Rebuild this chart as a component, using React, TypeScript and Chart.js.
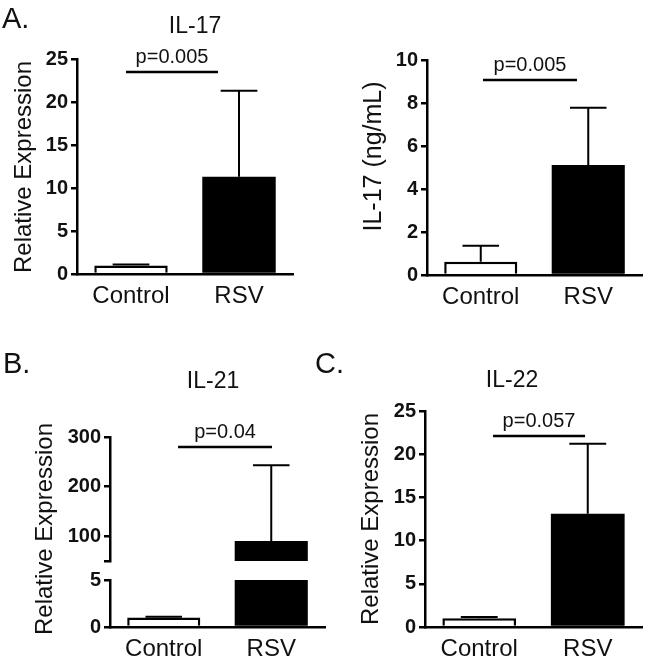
import React, { useEffect, useRef } from 'react';
import { Chart, registerables } from 'chart.js';

Chart.register(...registerables);

// ---------- data ----------
const categories = ['Control', 'RSV'];

// A (left): IL-17 relative expression
const il17RelMeans = [1.0, 11.3];
const il17RelErrors = [0.1, 10.0];
const il17RelTicks = [0, 5, 10, 15, 20, 25];

// A (right): IL-17 protein (ng/mL)
const il17ProtMeans = [0.62, 5.12];
const il17ProtErrors = [0.74, 2.66];
const il17ProtTicks = [0, 2, 4, 6, 8, 10];

// B: IL-21 relative expression (broken axis)
const il21Means = [1.0, 90.5];
const il21Errors = [0.1, 152.5];
const il21LowerTicks = [0, 5];
const il21UpperTicks = [50, 100, 200, 300];
const il21UpperLabelled = [100, 200, 300];

// C: IL-22 relative expression
const il22Means = [1.0, 13.1];
const il22Errors = [0.15, 8.1];
const il22Ticks = [0, 5, 10, 15, 20, 25];

const pLabels = ['p=0.005', 'p=0.005', 'p=0.04', 'p=0.057'];
const sigLevels = [23.5, 9.07, 280, 22.1];

// ---------- layout / style ----------
const FONT = "'Liberation Sans', Arial, Helvetica, sans-serif";
const INK = '#111';

type Box = { x: number; y: number; w: number; h: number };
type Area = { l: number; t: number; r: number; b: number };
type Spec = {
  key: string;
  box: Box;
  area: Area;
  showX: boolean;
  means: number[];
  errors: number[];
  ticks: number[];
  labelled: number[];
  min: number;
  max: number;
  letter?: { text: string; x: number; y: number };
  title?: { text: string; x: number; y: number };
  yTitle?: { text: string; x: number; y: number; size: number };
  sig?: { text: string; y: number; from: number; to: number };
};

const boxB: Box = { x: 0, y: 330, w: 330, h: 334 };

const specs: Spec[] = [
  {
    key: 'a1',
    box: { x: 0, y: 0, w: 330, h: 320 },
    area: { l: 77, t: 59, r: 293, b: 274 },
    showX: true,
    means: il17RelMeans,
    errors: il17RelErrors,
    ticks: il17RelTicks,
    labelled: il17RelTicks,
    min: 0,
    max: 25,
    letter: { text: 'A.', x: 2, y: 28 },
    title: { text: 'IL-17', x: 195, y: 33 },
    yTitle: { text: 'Relative Expression', x: 24, y: 167, size: 24 },
    sig: { text: pLabels[0], y: sigLevels[0], from: -0.046, to: 0.806 },
  },
  {
    key: 'a2',
    box: { x: 330, y: 0, w: 327, h: 320 },
    area: { l: 427, t: 60, r: 642, b: 275 },
    showX: true,
    means: il17ProtMeans,
    errors: il17ProtErrors,
    ticks: il17ProtTicks,
    labelled: il17ProtTicks,
    min: 0,
    max: 10,
    yTitle: { text: 'IL-17 (ng/mL)', x: 374.5, y: 156.5, size: 25 },
    sig: { text: pLabels[1], y: sigLevels[1], from: 0.021, to: 0.895 },
  },
  {
    key: 'b-upper',
    box: boxB,
    area: { l: 110, t: 437, r: 325, b: 561 },
    showX: false,
    means: il21Means,
    errors: il21Errors,
    ticks: il21UpperTicks,
    labelled: il21UpperLabelled,
    min: 50,
    max: 300,
    letter: { text: 'B.', x: 3, y: 373 },
    title: { text: 'IL-21', x: 213, y: 388 },
    yTitle: { text: 'Relative Expression', x: 45.5, y: 529, size: 24 },
    sig: { text: pLabels[2], y: sigLevels[2], from: 0.133, to: 1.007 },
  },
  {
    key: 'b-lower',
    box: boxB,
    area: { l: 110, t: 580, r: 325, b: 627 },
    showX: true,
    means: il21Means,
    errors: il21Errors,
    ticks: il21LowerTicks,
    labelled: il21LowerTicks,
    min: 0,
    max: 5,
  },
  {
    key: 'c',
    box: { x: 300, y: 330, w: 357, h: 334 },
    area: { l: 425, t: 411, r: 642, b: 627 },
    showX: true,
    means: il22Means,
    errors: il22Errors,
    ticks: il22Ticks,
    labelled: il22Ticks,
    min: 0,
    max: 25,
    letter: { text: 'C.', x: 315, y: 373 },
    title: { text: 'IL-22', x: 512, y: 387 },
    yTitle: { text: 'Relative Expression', x: 371, y: 519, size: 24 },
    sig: { text: pLabels[3], y: sigLevels[3], from: 0.127, to: 0.975 },
  },
];

// ---------- plugin: error bars, significance bars, panel text ----------
const decorPlugin = {
  id: 'decor',
  afterDatasetsDraw(chart: any) {
    const spec: Spec = chart.$spec;
    if (!spec) return;
    const { ctx, chartArea } = chart;
    const yScale = chart.scales.y;
    const meta = chart.getDatasetMeta(0);
    ctx.save();
    ctx.beginPath();
    ctx.rect(chartArea.left, chartArea.top, chartArea.right - chartArea.left, chartArea.bottom - chartArea.top);
    ctx.clip();
    ctx.strokeStyle = '#000';
    ctx.lineWidth = 2;
    meta.data.forEach((bar: any, i: number) => {
      const mean = spec.means[i];
      const err = spec.errors[i];
      const x = bar.x;
      const half = bar.width / 4;
      const y0 = yScale.getPixelForValue(mean);
      const y1 = yScale.getPixelForValue(mean + err);
      ctx.beginPath();
      ctx.moveTo(x, y0);
      ctx.lineTo(x, y1);
      ctx.moveTo(x - half, y1);
      ctx.lineTo(x + half, y1);
      ctx.stroke();
    });
    ctx.restore();
  },
  afterDraw(chart: any) {
    const spec: Spec = chart.$spec;
    if (!spec) return;
    const { ctx } = chart;
    const xScale = chart.scales.x;
    const yScale = chart.scales.y;
    ctx.save();
    ctx.fillStyle = INK;
    if (spec.sig) {
      const x1 = xScale.getPixelForValue(spec.sig.from);
      const x2 = xScale.getPixelForValue(spec.sig.to);
      const y = yScale.getPixelForValue(spec.sig.y);
      ctx.strokeStyle = '#000';
      ctx.lineWidth = 2.5;
      ctx.beginPath();
      ctx.moveTo(x1, y);
      ctx.lineTo(x2, y);
      ctx.stroke();
      ctx.font = `20px ${FONT}`;
      ctx.textAlign = 'center';
      ctx.textBaseline = 'alphabetic';
      ctx.fillText(spec.sig.text, (x1 + x2) / 2, y - 9);
    }
    ctx.translate(-spec.box.x, -spec.box.y);
    if (spec.letter) {
      ctx.font = `29px ${FONT}`;
      ctx.textAlign = 'left';
      ctx.textBaseline = 'alphabetic';
      ctx.fillText(spec.letter.text, spec.letter.x, spec.letter.y);
    }
    if (spec.title) {
      ctx.font = `23px ${FONT}`;
      ctx.textAlign = 'center';
      ctx.textBaseline = 'alphabetic';
      ctx.fillText(spec.title.text, spec.title.x, spec.title.y);
    }
    if (spec.yTitle) {
      ctx.save();
      ctx.translate(spec.yTitle.x, spec.yTitle.y);
      ctx.rotate(-Math.PI / 2);
      ctx.font = `${spec.yTitle.size}px ${FONT}`;
      ctx.textAlign = 'center';
      ctx.textBaseline = 'middle';
      ctx.fillText(spec.yTitle.text, 0, 0);
      ctx.restore();
    }
    ctx.restore();
  },
};

function Panel({ spec }: { spec: Spec }) {
  const ref = useRef<HTMLCanvasElement | null>(null);
  useEffect(() => {
    const canvas = ref.current;
    if (!canvas) return;
    const { box, area } = spec;
    const chart: any = new Chart(canvas, {
      type: 'bar',
      data: {
        labels: categories,
        datasets: [
          {
            data: spec.means,
            backgroundColor: ['#ffffff', '#000000'],
            borderColor: '#000000',
            borderWidth: [2.5, 0],
            barPercentage: 0.68,
            categoryPercentage: 1,
            clip: 0,
          } as any,
        ],
      },
      options: {
        animation: false,
        responsive: false,
        maintainAspectRatio: false,
        events: [],
        layout: {
          padding: {
            left: 0,
            top: area.t - box.y,
            right: box.x + box.w - area.r,
            bottom: spec.showX ? 0 : box.y + box.h - area.b,
          },
        },
        plugins: {
          legend: { display: false },
          tooltip: { enabled: false },
          title: { display: false },
        },
        scales: {
          x: {
            type: 'category',
            display: spec.showX,
            offset: true,
            z: 1,
            afterFit: (s: any) => {
              s.height = spec.showX ? box.y + box.h - area.b : 0;
            },
            ticks: {
              color: INK,
              font: { family: FONT, size: 24 },
              padding: 8,
              maxRotation: 0,
              autoSkip: false,
            },
            grid: { display: false, drawTicks: false },
            border: { display: true, color: '#000', width: 2.5 },
          },
          y: {
            type: 'linear',
            min: spec.min,
            max: spec.max,
            z: 1,
            afterBuildTicks: (s: any) => {
              s.ticks = spec.ticks.map((v) => ({ value: v }));
            },
            afterFit: (s: any) => {
              s.width = area.l - box.x;
            },
            ticks: {
              color: INK,
              font: { family: FONT, size: 20, weight: 'bold' },
              padding: 3,
              callback: (v: any) => (spec.labelled.includes(Number(v)) ? String(v) : ''),
            },
            grid: {
              display: true,
              drawOnChartArea: false,
              drawTicks: true,
              tickLength: 6,
              tickWidth: 2.5,
              tickColor: '#000',
              lineWidth: 2.5,
              color: '#000',
            },
            border: { display: true, color: '#000', width: 2.5 },
          },
        },
      } as any,
      plugins: [
        {
          id: 'specInit',
          beforeInit(c: any) {
            c.$spec = spec;
          },
        } as any,
        decorPlugin as any,
      ],
    });
    return () => chart.destroy();
  }, [spec]);
  return (
    <canvas
      ref={ref}
      width={spec.box.w}
      height={spec.box.h}
      style={{
        position: 'absolute',
        left: spec.box.x,
        top: spec.box.y,
        width: spec.box.w,
        height: spec.box.h,
      }}
    />
  );
}

export default function App() {
  return (
    <div
      style={{
        position: 'absolute',
        left: 0,
        top: 0,
        width: 657,
        height: 664,
        background: '#ffffff',
        overflow: 'hidden',
      }}
    >
      {specs.map((s) => (
        <Panel key={s.key} spec={s} />
      ))}
    </div>
  );
}
